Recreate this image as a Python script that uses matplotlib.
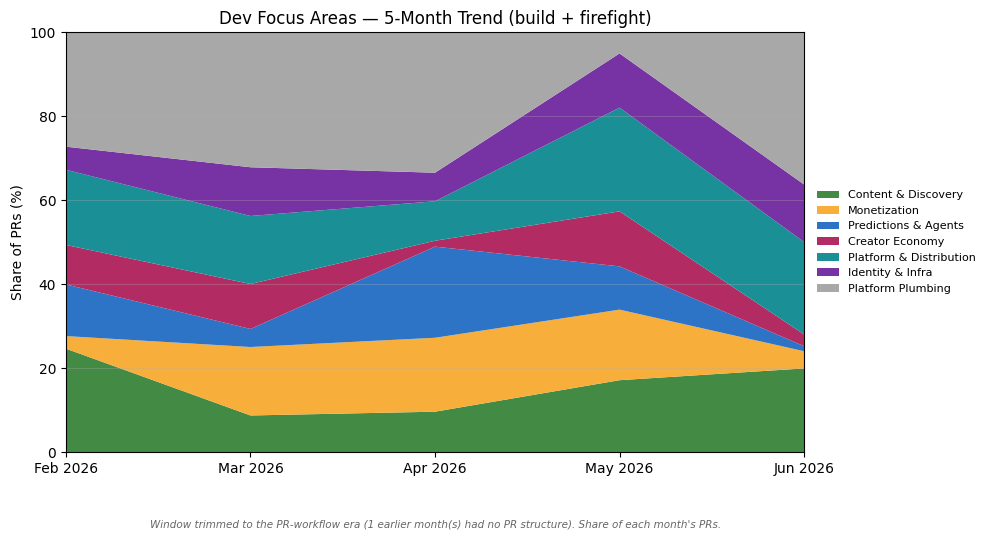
import matplotlib
matplotlib.use("Agg")
import matplotlib.pyplot as plt

months = ["Feb 2026", "Mar 2026", "Apr 2026", "May 2026", "Jun 2026"]
labels = ["Content & Discovery", "Monetization", "Predictions & Agents", "Creator Economy",
          "Platform & Distribution", "Identity & Infra", "Platform Plumbing"]
colors = ["#438a44", "#f7ae3b", "#2d74c6", "#b22b62", "#1a9096", "#7732a4", "#a8a8a8"]

# share of PRs per month (%)
content = [24.6, 8.7, 9.6, 17.1, 19.9]
monetization = [3.0, 16.3, 17.6, 16.8, 4.1]
predictions = [12.3, 4.3, 21.7, 10.3, 1.2]
creator = [9.4, 10.7, 1.4, 13.1, 2.8]
platform_dist = [17.9, 16.2, 9.4, 24.7, 22.0]
identity = [5.5, 11.6, 6.8, 12.9, 13.7]
plumbing = [27.3, 32.2, 33.5, 5.1, 36.3]

series = [content, monetization, predictions, creator, platform_dist, identity, plumbing]

fig = plt.figure(figsize=(9.89, 5.39), dpi=100)
ax = fig.add_axes([0.0667, 0.1614, 0.7463, 0.7792])

x = list(range(len(months)))
ax.stackplot(x, *series, labels=labels, colors=colors, linewidth=0)

ax.set_xlim(0, len(months) - 1)
ax.set_ylim(0, 100)
ax.set_xticks(x)
ax.set_xticklabels(months)
ax.set_ylabel("Share of PRs (%)")
ax.set_title("Dev Focus Areas — 5-Month Trend (build + firefight)", fontsize=12)
ax.grid(axis="y", alpha=0.3)

ax.legend(loc="center left", bbox_to_anchor=(1.004, 0.5), frameon=False, fontsize=8)

fig.text(0.44, 0.022, "Window trimmed to the PR-workflow era (1 earlier month(s) had no PR structure). "
         "Share of each month's PRs.", ha="center", fontsize=7.5, style="italic", color="#666666")

fig.savefig("out.png", dpi=100)
